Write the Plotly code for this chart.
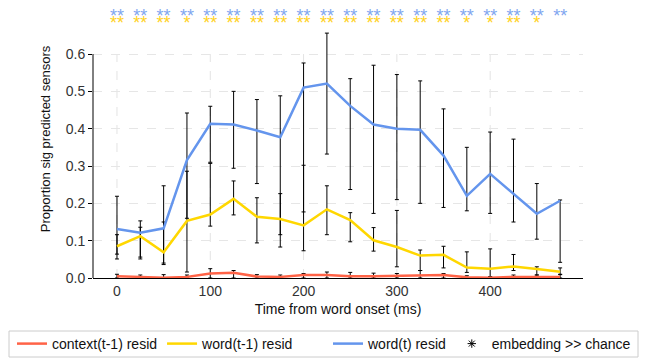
import plotly.graph_objects as go

times = [0, 25, 50, 75, 100, 125, 150, 175, 200, 225, 250, 275, 300, 325, 350, 375, 400, 425, 450, 475]

word_t = [0.131, 0.121, 0.133, 0.316, 0.413, 0.411, 0.395, 0.377, 0.510, 0.521, 0.461, 0.411, 0.400, 0.397, 0.328, 0.220, 0.279, 0.226, 0.172, 0.207]
word_t_hi = [0.219, 0.153, 0.247, 0.442, 0.460, 0.500, 0.478, 0.488, 0.576, 0.656, 0.534, 0.570, 0.545, 0.528, 0.453, 0.350, 0.391, 0.372, 0.253, 0.209]
word_t_lo = [0.064, 0.051, 0.040, 0.160, 0.310, 0.294, 0.253, 0.083, 0.177, 0.332, 0.237, 0.173, 0.210, 0.200, 0.189, 0.180, 0.173, 0.150, 0.104, 0.042]

word_t1 = [0.085, 0.112, 0.069, 0.153, 0.170, 0.212, 0.164, 0.158, 0.141, 0.184, 0.155, 0.101, 0.083, 0.060, 0.062, 0.028, 0.025, 0.031, 0.024, 0.017]
word_t1_hi = [0.116, 0.136, 0.150, 0.286, 0.307, 0.260, 0.215, 0.226, 0.302, 0.247, 0.175, 0.135, 0.181, 0.075, 0.085, 0.070, 0.078, 0.063, 0.030, 0.027]
word_t1_lo = [0.051, 0.056, 0.036, 0.016, 0.139, 0.169, 0.094, 0.116, 0.073, 0.116, 0.097, 0.072, 0.030, 0.020, 0.027, 0.015, 0.003, 0.020, 0.008, 0.009]

context_t1 = [0.005, 0.003, 0.001, 0.003, 0.012, 0.014, 0.004, 0.003, 0.008, 0.008, 0.005, 0.005, 0.006, 0.006, 0.008, 0.002, 0.001, 0.003, 0.003, 0.003]
context_t1_hi = [0.010, 0.008, 0.009, 0.008, 0.025, 0.020, 0.009, 0.008, 0.012, 0.016, 0.015, 0.013, 0.012, 0.020, 0.012, 0.006, 0.004, 0.008, 0.008, 0.010]
context_t1_lo = [0.0] * 20

word_t_sig = ["**"] * 20
word_t1_sig = ["**", "**", "**", "*", "**", "**", "**", "**", "**", "**", "**", "**", "**", "**", "**", "*", "*", "**", "*", ""]

x_ticks = [0, 100, 200, 300, 400]
y_ticks = [0.0, 0.1, 0.2, 0.3, 0.4, 0.5, 0.6]

RED = "#FF6347"
YEL = "#FFD700"
BLU = "#6495ED"
FONT = "Liberation Sans, Arial, sans-serif"

series = [
    ("context(t-1) resid", context_t1, context_t1_hi, context_t1_lo, RED, "legend"),
    ("word(t-1) resid", word_t1, word_t1_hi, word_t1_lo, YEL, "legend"),
    ("word(t) resid", word_t, word_t_hi, word_t_lo, BLU, "legend2"),
]

fig = go.Figure()

# error bars (drawn below lines)
for name, vals, hi, lo, col, lg in series:
    fig.add_trace(go.Scatter(
        x=times, y=vals, mode="markers",
        marker=dict(size=1, color="rgba(0,0,0,0)"),
        error_y=dict(type="data", symmetric=False,
                     array=[h - v for h, v in zip(hi, vals)],
                     arrayminus=[v - l for v, l in zip(vals, lo)],
                     color="black", thickness=1, width=2),
        showlegend=False, hoverinfo="skip"))

for name, vals, hi, lo, col, lg in series:
    fig.add_trace(go.Scatter(
        x=times, y=vals, mode="lines", name=name, legend=lg,
        line=dict(color=col, width=2.5)))

fig.add_trace(go.Scatter(
    x=[None], y=[None], mode="markers", name="embedding >> chance", legend="legend2",
    marker=dict(symbol="asterisk-open", size=7, color="black",
                line=dict(color="black", width=1))))

# significance markers
fig.add_trace(go.Scatter(
    x=times, y=[0.699] * len(times), mode="text", text=word_t_sig,
    textfont=dict(size=18, color="#7fa6f0", family=FONT),
    showlegend=False, hoverinfo="skip", cliponaxis=False))
fig.add_trace(go.Scatter(
    x=times, y=[0.680] * len(times), mode="text", text=word_t1_sig,
    textfont=dict(size=18, color="#FFD21F", family=FONT),
    showlegend=False, hoverinfo="skip", cliponaxis=False))

shapes = []
for xv in x_ticks:
    shapes.append(dict(type="line", xref="x", yref="y", x0=xv, x1=xv, y0=0, y1=0.6,
                       line=dict(color="#e3e3e3", width=1, dash="dash"), layer="below"))
shapes.append(dict(type="line", xref="paper", yref="y", x0=0, x1=0, y0=0, y1=0.6,
                   line=dict(color="black", width=1)))
# legend frame
W, H = 646.0, 363.0
shapes.append(dict(type="rect", xref="paper", yref="paper",
                   x0=(9 - 93) / 490.0, x1=(638 - 93) / 490.0,
                   y0=(278 - 357) / 278.0, y1=(278 - 331) / 278.0,
                   line=dict(color="#cccccc", width=1), fillcolor="rgba(0,0,0,0)", layer="below"))

leg_common = dict(orientation="h", xref="container", yref="container",
                  yanchor="middle", y=1 - 344 / H,
                  borderwidth=0, bgcolor="rgba(0,0,0,0)",
                  font=dict(size=14, color="#111", family=FONT), tracegroupgap=0)

fig.update_layout(
    width=646, height=363,
    margin=dict(l=93, r=63, t=0, b=85, autoexpand=False),
    paper_bgcolor="white", plot_bgcolor="white",
    font=dict(family=FONT, size=13, color="#222"),
    shapes=shapes,
    xaxis=dict(range=[-25.7, 499.5], tickvals=x_ticks, showgrid=False,
               zeroline=False, showline=True, linecolor="black", linewidth=1,
               ticks="", tickfont=dict(size=14, color="#333"),
               title=dict(text="Time from word onset (ms)", font=dict(size=14, color="#111"), standoff=6)),
    yaxis=dict(range=[0, 0.7447], tickvals=y_ticks, ticktext=["0.0", "0.1", "0.2", "0.3", "0.4", "0.5", "0.6"],
               showgrid=True, gridcolor="#e6e6e6", griddash="dash", gridwidth=1,
               zeroline=False, showline=False, ticks="outside", ticklen=4, tickcolor="black",
               tickfont=dict(size=14, color="#333"),
               title=dict(text="Proportion sig predicted sensors", font=dict(size=13, color="#111"), standoff=12)),
    legend=dict(x=12 / W, xanchor="left", **leg_common),
    legend2=dict(x=636 / W, xanchor="right", **leg_common),
)

fig.write_html("out.html")
